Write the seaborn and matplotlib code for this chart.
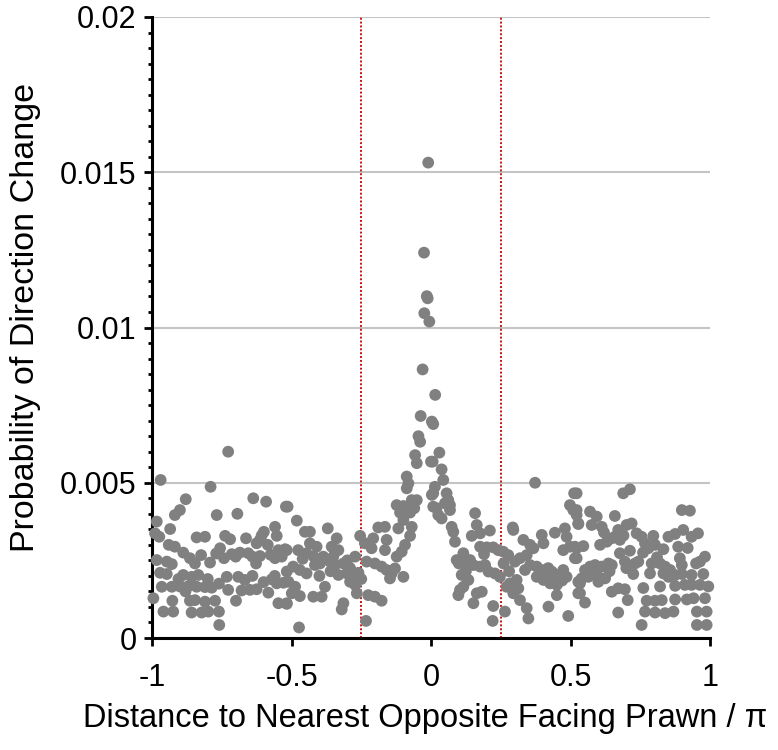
import matplotlib
matplotlib.use("Agg")
import matplotlib.pyplot as plt
from matplotlib.ticker import MultipleLocator, FixedLocator
import pandas as pd
import seaborn as sns

# (distance / pi, probability) pairs, by region
seg_far_left = [
    (-0.727, 0.0060), (-0.969, 0.00509), (-0.790, 0.00487), (-0.879, 0.00447), (-0.637, 0.00450),
    (-0.591, 0.00439), (-0.520, 0.00423), (-0.900, 0.00412), (-0.918, 0.00396), (-0.768, 0.00396),
    (-0.694, 0.00400), (-0.983, 0.00375), (-0.935, 0.00351), (-0.989, 0.00337), (-0.974, 0.00326),
    (-0.559, 0.00358), (-0.553, 0.00329), (-0.599, 0.00342), (-0.613, 0.00316), (-0.625, 0.00305),
    (-0.840, 0.00324), (-0.810, 0.00326), (-0.738, 0.00329), (-0.720, 0.00318), (-0.663, 0.00321),
    (-0.918, 0.00294), (-0.888, 0.00275), (-0.864, 0.00257), (-0.824, 0.00267), (-0.756, 0.00289),
    (-0.742, 0.00257), (-0.714, 0.00270), (-0.685, 0.00275), (-0.655, 0.00273), (-0.792, 0.00243),
    (-0.983, 0.00251), (-0.947, 0.00246), (-0.929, 0.00238), (-0.846, 0.00240), (-0.627, 0.00240),
    (-0.613, 0.00264), (-0.547, 0.00283), (-0.523, 0.00286), (-0.559, 0.00257), (-0.971, 0.00210),
    (-0.947, 0.00206), (-0.888, 0.00203), (-0.858, 0.00197), (-0.834, 0.00203), (-0.732, 0.00197),
    (-0.691, 0.00197), (-0.667, 0.00187), (-0.571, 0.00189), (-0.517, 0.00214), (-0.965, 0.00165),
    (-0.929, 0.00165), (-0.900, 0.00166), (-0.870, 0.00167), (-0.840, 0.00165), (-0.810, 0.00164),
    (-0.786, 0.00162), (-0.727, 0.00155), (-0.679, 0.00153), (-0.649, 0.00155), (-0.625, 0.00157),
    (-0.583, 0.00146), (-0.553, 0.00176), (-0.529, 0.00178), (-0.995, 0.00128), (-0.927, 0.00120),
    (-0.864, 0.00120), (-0.846, 0.00122), (-0.810, 0.00117), (-0.774, 0.00120), (-0.699, 0.00120),
    (-0.547, 0.00112), (-0.517, 0.00110), (-0.959, 0.00085), (-0.924, 0.00085), (-0.858, 0.00082),
    (-0.822, 0.00082), (-0.798, 0.00085), (-0.760, 0.00085), (-0.759, 0.00042),
    (-0.607, 0.00330), (-0.585, 0.00300), (-0.575, 0.00268), (-0.535, 0.00262), (-0.640, 0.00262),
    (-0.700, 0.00262), (-0.770, 0.00272), (-0.905, 0.00190), (-0.800, 0.00190), (-0.760, 0.00175),
    (-0.640, 0.00200), (-0.600, 0.00180), (-0.560, 0.00200), (-0.880, 0.00150), (-0.940, 0.00300),
]

seg_mid_left = [
    (-0.514, 0.00423), (-0.481, 0.00378), (-0.452, 0.00342), (-0.434, 0.00342), (-0.370, 0.00353),
    (-0.338, 0.00321), (-0.434, 0.00305), (-0.410, 0.00294), (-0.476, 0.00283), (-0.446, 0.00273),
    (-0.517, 0.00283), (-0.356, 0.00294), (-0.332, 0.00283), (-0.386, 0.00262), (-0.416, 0.00235),
    (-0.398, 0.00240), (-0.494, 0.00230), (-0.470, 0.00219), (-0.446, 0.00208), (-0.362, 0.00246),
    (-0.344, 0.00235), (-0.314, 0.00240), (-0.272, 0.00262), (-0.254, 0.00329), (-0.237, 0.00305),
    (-0.207, 0.00321), (-0.213, 0.00289), (-0.189, 0.00356), (-0.165, 0.00358), (-0.159, 0.00316),
    (-0.165, 0.00283), (-0.302, 0.00208), (-0.278, 0.00197), (-0.290, 0.00181), (-0.272, 0.00171),
    (-0.332, 0.00203), (-0.511, 0.00181), (-0.487, 0.00165), (-0.499, 0.00144), (-0.470, 0.00135),
    (-0.422, 0.00133), (-0.392, 0.00133), (-0.517, 0.00112), (-0.380, 0.00165), (-0.314, 0.00112),
    (-0.320, 0.00092), (-0.266, 0.00144), (-0.473, 0.00034), (-0.233, 0.00055), (-0.225, 0.00138),
    (-0.201, 0.00133), (-0.177, 0.00120), (-0.231, 0.00246), (-0.201, 0.00240), (-0.177, 0.00230),
    (-0.159, 0.00219), (-0.141, 0.00208), (-0.129, 0.00224), (-0.147, 0.00192), (-0.099, 0.00197),
    (-0.123, 0.00262), (-0.105, 0.00278), (-0.093, 0.00300), (-0.075, 0.00329), (-0.069, 0.00358),
    (-0.117, 0.00353), (-0.099, 0.00380), (-0.111, 0.00404), (-0.123, 0.00428), (-0.099, 0.00425),
    (-0.075, 0.00404), (-0.060, 0.00418), (-0.051, 0.00444), (-0.069, 0.00444), (-0.087, 0.00482),
    (-0.081, 0.00498), (-0.087, 0.00520), (0.003, 0.00461), (0.008, 0.00423), (-0.057, 0.00589),
    (-0.051, 0.00563), (-0.045, 0.00650), (-0.039, 0.00632), (0.000, 0.00568),
    (-0.460, 0.00255), (-0.420, 0.00262), (-0.350, 0.00262), (-0.300, 0.00250), (-0.290, 0.00225),
    (-0.260, 0.00210), (-0.250, 0.00190), (-0.400, 0.00200), (-0.360, 0.00215),
]

seg_peak = [
    (-0.010, 0.01531), (-0.025, 0.01241), (-0.015, 0.01101), (-0.012, 0.01094), (-0.024, 0.01046),
    (-0.006, 0.01019), (-0.030, 0.00865), (0.015, 0.00783), (-0.037, 0.00715), (0.003, 0.00697),
    (0.008, 0.00689),
]

seg_mid_right = [
    (0.030, 0.00597), (0.006, 0.00568), (0.038, 0.00543), (0.044, 0.00509), (0.014, 0.00487),
    (0.008, 0.00466), (0.056, 0.00466), (0.062, 0.00444), (0.068, 0.00428), (0.050, 0.00434),
    (0.020, 0.00418), (0.026, 0.00396), (0.038, 0.00385), (0.068, 0.00412), (0.074, 0.00358),
    (0.080, 0.00342), (0.086, 0.00310), (0.158, 0.00402), (0.164, 0.00364), (0.176, 0.00337),
    (0.146, 0.00329), (0.211, 0.00346), (0.293, 0.00356), (0.295, 0.00348), (0.373, 0.00500),
    (0.176, 0.00294), (0.200, 0.00292), (0.223, 0.00292), (0.241, 0.00283), (0.259, 0.00278),
    (0.277, 0.00267), (0.331, 0.00316), (0.355, 0.00300), (0.367, 0.00289), (0.343, 0.00267),
    (0.319, 0.00257), (0.301, 0.00246), (0.397, 0.00332), (0.403, 0.00305), (0.444, 0.00339),
    (0.480, 0.00353), (0.486, 0.00326), (0.513, 0.00466), (0.498, 0.00428), (0.510, 0.00412),
    (0.522, 0.00396), (0.528, 0.00367), (0.116, 0.00273), (0.092, 0.00251), (0.122, 0.00240),
    (0.140, 0.00251), (0.152, 0.00235), (0.176, 0.00230), (0.194, 0.00235), (0.206, 0.00214),
    (0.229, 0.00208), (0.247, 0.00197), (0.110, 0.00203), (0.134, 0.00187), (0.116, 0.00165),
    (0.098, 0.00138), (0.104, 0.00155), (0.164, 0.00144), (0.182, 0.00149), (0.152, 0.00112),
    (0.223, 0.00103), (0.265, 0.00085), (0.221, 0.00055), (0.271, 0.00165), (0.283, 0.00176),
    (0.307, 0.00187), (0.313, 0.00160), (0.295, 0.00144), (0.319, 0.00122), (0.343, 0.00096),
    (0.349, 0.00063), (0.337, 0.00219), (0.355, 0.00235), (0.379, 0.00230), (0.397, 0.00219),
    (0.415, 0.00208), (0.433, 0.00214), (0.451, 0.00203), (0.474, 0.00219), (0.486, 0.00197),
    (0.379, 0.00197), (0.403, 0.00187), (0.427, 0.00176), (0.451, 0.00171), (0.451, 0.00138),
    (0.421, 0.00101), (0.492, 0.00071), (0.474, 0.00283), (0.498, 0.00294), (0.522, 0.00289),
    (0.516, 0.00257), (0.528, 0.00181), (0.528, 0.00144),
    (0.100, 0.00240), (0.125, 0.00215), (0.190, 0.00270), (0.260, 0.00240), (0.280, 0.00215),
    (0.420, 0.00225), (0.440, 0.00195), (0.470, 0.00185),
]

seg_far_right = [
    (0.713, 0.00479), (0.689, 0.00466), (0.522, 0.00466), (0.522, 0.00412), (0.528, 0.00369),
    (0.570, 0.00407), (0.594, 0.00391), (0.576, 0.00364), (0.612, 0.00358), (0.659, 0.00393),
    (0.899, 0.00412), (0.928, 0.00410), (0.719, 0.00369), (0.701, 0.00364), (0.671, 0.00348),
    (0.659, 0.00326), (0.648, 0.00321), (0.677, 0.00316), (0.737, 0.00337), (0.755, 0.00326),
    (0.767, 0.00305), (0.797, 0.00329), (0.803, 0.00300), (0.779, 0.00289), (0.833, 0.00286),
    (0.851, 0.00326), (0.875, 0.00335), (0.904, 0.00348), (0.934, 0.00326), (0.957, 0.00337),
    (0.886, 0.00294), (0.516, 0.00294), (0.546, 0.00296), (0.606, 0.00300), (0.630, 0.00310),
    (0.522, 0.00257), (0.677, 0.00273), (0.713, 0.00281), (0.695, 0.00246), (0.731, 0.00240),
    (0.743, 0.00246), (0.725, 0.00206), (0.791, 0.00240), (0.821, 0.00240), (0.839, 0.00230),
    (0.857, 0.00219), (0.785, 0.00208), (0.833, 0.00208), (0.851, 0.00197), (0.875, 0.00203),
    (0.899, 0.00206), (0.892, 0.00257), (0.899, 0.00235), (0.982, 0.00262), (0.964, 0.00246),
    (0.934, 0.00203), (0.976, 0.00206), (0.552, 0.00219), (0.570, 0.00230), (0.588, 0.00235),
    (0.612, 0.00230), (0.636, 0.00240), (0.648, 0.00235), (0.540, 0.00192), (0.564, 0.00197),
    (0.600, 0.00197), (0.624, 0.00192), (0.534, 0.00176), (0.576, 0.00214), (0.600, 0.00181),
    (0.761, 0.00161), (0.821, 0.00166), (0.875, 0.00168), (0.910, 0.00171), (0.934, 0.00171),
    (0.964, 0.00171), (0.994, 0.00166), (0.648, 0.00149), (0.671, 0.00160), (0.695, 0.00157),
    (0.534, 0.00144), (0.552, 0.00114), (0.705, 0.00122), (0.773, 0.00120), (0.803, 0.00120),
    (0.827, 0.00122), (0.875, 0.00124), (0.917, 0.00124), (0.941, 0.00128), (0.982, 0.00128),
    (0.767, 0.00085), (0.803, 0.00082), (0.839, 0.00080), (0.869, 0.00085), (0.671, 0.00082),
    (0.953, 0.00085), (0.988, 0.00085), (0.755, 0.00042), (0.953, 0.00042), (0.988, 0.00042),
    (0.620, 0.00340), (0.690, 0.00330), (0.760, 0.00275), (0.810, 0.00260), (0.920, 0.00290),
    (0.950, 0.00240), (0.640, 0.00215), (0.700, 0.00225),
]

x_ticks = [-1, -0.5, 0, 0.5, 1]
x_tick_labels = ["-1", "-0.5", "0", "0.5", "1"]
y_ticks = [0, 0.005, 0.01, 0.015, 0.02]
y_tick_labels = ["0", "0.005", "0.01", "0.015", "0.02"]
boundaries = [-0.25, 0.25]

points = seg_far_left + seg_mid_left + seg_peak + seg_mid_right + seg_far_right
df = pd.DataFrame(points, columns=["distance", "prob"])

sns.set_style("ticks")
plt.rcParams['font.family'] = ['Liberation Sans', 'DejaVu Sans']
plt.rcParams['text.color'] = 'black'
plt.rcParams['axes.labelcolor'] = 'black'

fig = plt.figure(figsize=(7.78, 7.5), dpi=100)
ax = fig.add_axes([152 / 778, 1 - 638 / 750, 558 / 778, 621 / 750])

ax.set_xlim(-1, 1)
ax.set_ylim(0, 0.02)
ax.yaxis.set_major_locator(FixedLocator(y_ticks))
ax.set_yticklabels(y_tick_labels)
ax.xaxis.set_major_locator(FixedLocator(x_ticks))
ax.set_xticklabels(x_tick_labels)
ax.yaxis.set_minor_locator(MultipleLocator(0.0005))

ax.grid(axis='y', which='major', color='#c4c4c4', linewidth=1.5, zorder=0)
ax.set_axisbelow(True)
for b in boundaries:
    ax.axvline(b, color='#cc1111', linewidth=1.4, linestyle=(0, (1, 1)), zorder=1)

sns.scatterplot(data=df, x="distance", y="prob", color="#808080", s=72,
                edgecolor="none", linewidth=0, ax=ax, zorder=3, clip_on=False, legend=False)

for side in ['top', 'right']:
    ax.spines[side].set_visible(False)
for side in ['left', 'bottom']:
    ax.spines[side].set_linewidth(2.2)
    ax.spines[side].set_color('black')

ax.tick_params(axis='both', which='major', direction='out', length=6, width=2,
               labelsize=22, color='black', labelcolor='black')
ax.tick_params(axis='x', which='major', pad=12)
ax.tick_params(axis='y', which='major', pad=5)
ax.tick_params(axis='y', which='minor', direction='out', length=3, width=2, color='black')

ax.set_xlabel("Distance to Nearest Opposite Facing Prawn / π", fontsize=23.5, labelpad=7, color='black')
ax.set_ylabel("Probability of Direction Change", fontsize=24.5, labelpad=14, color='black')
ax.xaxis.label.set_x(0.49)
ax.yaxis.label.set_y(0.516)

fig.savefig("out.png", dpi=100)
